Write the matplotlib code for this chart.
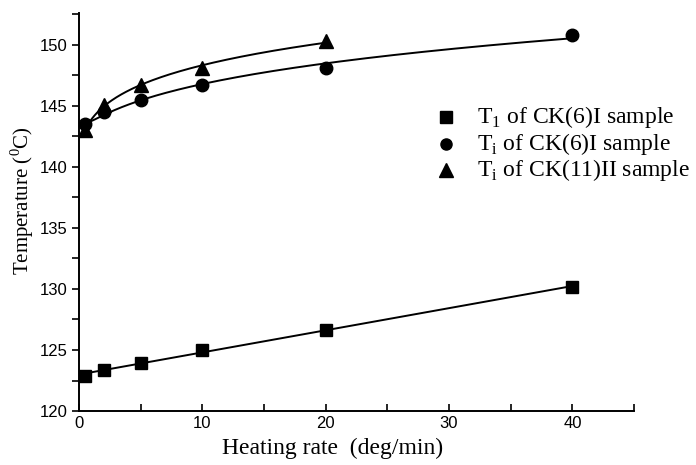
import numpy as np
import matplotlib
matplotlib.use("Agg")
import matplotlib.pyplot as plt
from matplotlib.ticker import MultipleLocator

# data
rate = [0.5, 2, 5, 10, 20, 40]
t1_ck6 = [122.9, 123.4, 123.9, 125.0, 126.6, 130.2]
ti_ck6 = [143.5, 144.5, 145.5, 146.7, 148.1, 150.8]
rate_ck11 = [0.5, 2, 5, 10, 20]
ti_ck11 = [143.0, 145.1, 146.7, 148.1, 150.3]

labels = [r"T$_\mathregular{1}$ of CK(6)I sample",
          r"T$_\mathregular{i}$ of CK(6)I sample",
          r"T$_\mathregular{i}$ of CK(11)II sample"]

serif = ["Liberation Serif", "DejaVu Serif"]
tickfont = ["Liberation Sans Narrow", "Liberation Sans", "DejaVu Sans"]
plt.rcParams["mathtext.fontset"] = "custom"
plt.rcParams["mathtext.rm"] = "Liberation Serif"

fig = plt.figure(figsize=(6.96, 4.65), dpi=100)
ax = fig.add_axes([0.1135, 0.116, 0.7975, 0.856])

# smooth fitted curves
x = np.array(rate)
xs = np.linspace(x.min(), x.max(), 200)
p = np.polyfit(x, t1_ck6, 1)
ax.plot(xs, np.polyval(p, xs), color="black", lw=1.4)

p = np.polyfit(np.log(x), ti_ck6, 2)
ax.plot(xs, np.polyval(p, np.log(xs)), color="black", lw=1.4)

x2 = np.array(rate_ck11)
xs2 = np.linspace(x2.min(), x2.max(), 200)
p = np.polyfit(np.log(x2), ti_ck11, 2)
ax.plot(xs2, np.polyval(p, np.log(xs2)), color="black", lw=1.4)

ax.plot(rate, t1_ck6, "s", color="black", ms=8.5, ls="none")
ax.plot(rate, ti_ck6, "o", color="black", ms=9, ls="none")
ax.plot(rate_ck11, ti_ck11, "^", color="black", ms=10, ls="none")

ax.set_xlim(0, 45)
ax.set_ylim(120, 152.6)
ax.xaxis.set_major_locator(MultipleLocator(10))
ax.xaxis.set_minor_locator(MultipleLocator(5))
ax.yaxis.set_major_locator(MultipleLocator(5))
ax.yaxis.set_minor_locator(MultipleLocator(2.5))
ax.tick_params(axis="x", which="both", direction="in", length=5, width=1.2)
ax.tick_params(axis="y", which="both", direction="out", length=5, width=1.2)
ax.spines["top"].set_visible(False)
ax.spines["right"].set_visible(False)
for s in ["left", "bottom"]:
    ax.spines[s].set_linewidth(1.4)
for lab in ax.get_xticklabels() + ax.get_yticklabels():
    lab.set_family(tickfont)
    lab.set_fontsize(12)

ax.set_xlabel("Heating rate  (deg/min)", family=serif, fontsize=17)
ax.set_ylabel(r"Temperature ($^\mathregular{0}$C)", family=serif, fontsize=15)
ax.xaxis.set_label_coords(0.456, -0.068)
ax.yaxis.set_label_coords(-0.077, 0.53)

# legend as marker + text
markers = ["s", "o", "^"]
sizes = [8, 8, 9.5]
ypos = [117, 144, 170]
for m, ms, yp, lab in zip(markers, sizes, ypos, labels):
    yf = 1 - yp / 465
    fig.lines.append(plt.Line2D([446 / 696], [yf], marker=m, color="black", ms=ms,
                                ls="none", transform=fig.transFigure))
    fig.text(477 / 696, yf, lab, family=serif, fontsize=17, va="center", ha="left")

fig.savefig("out.png", dpi=100)
